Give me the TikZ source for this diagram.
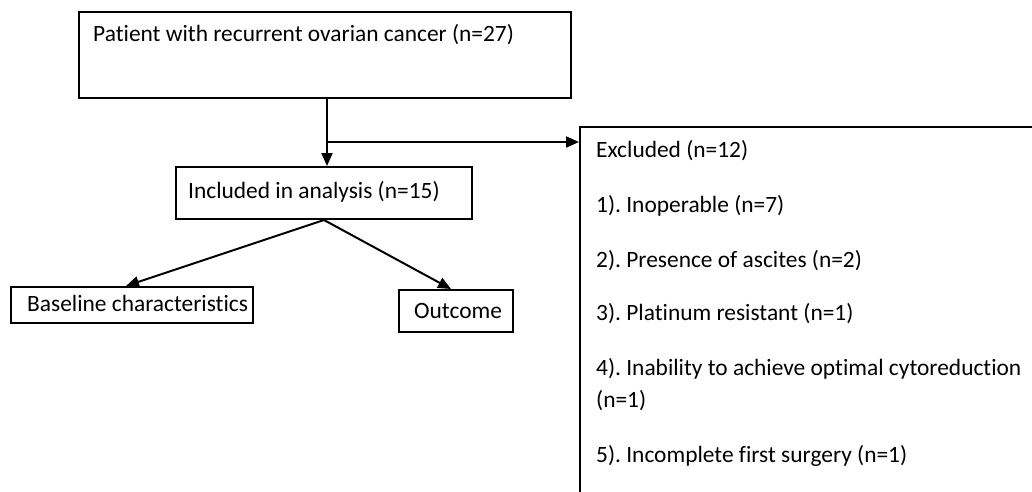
\documentclass[tikz,border=0pt]{standalone}
\usepackage{fontspec}
\setmainfont[Ligatures=NoCommon]{Carlito}
\usetikzlibrary{arrows.meta,calc}
\frenchspacing
\begin{document}
\begin{tikzpicture}[x=1pt,y=-1pt,
  box/.style={draw,line width=2pt,rectangle,inner sep=0pt,anchor=north west},
  txt/.style={anchor=base west,inner sep=0pt,font=\fontsize{23.4}{28}\selectfont},
  arr/.style={line width=2pt,-{Triangle[length=13pt,width=11pt]}}]
\useasboundingbox (0,0) rectangle (1032,491);
\clip (0,0) rectangle (1032,491);
\node[box,minimum width=492pt,minimum height=86pt] (top) at (78,11) {};
\node[box,minimum width=296pt,minimum height=52pt] (inc) at (175,166) {};
\node[box,minimum width=242pt,minimum height=36pt] (base) at (10,286) {};
\node[box,minimum width=114pt,minimum height=42pt] (out) at (398,289) {};
\node[box,minimum width=520pt,minimum height=440pt] (exc) at (579,126) {};
\node[txt] (t1) at (93,41) {Patient with recurrent ovarian cancer (n=27)};
\node[txt] (t2) at (188,198) {Included in analysis (n=15)};
\node[txt] (t3) at (27,311) {Baseline characteristics};
\node[txt] (t4) at (414,318) {Outcome};
\node[txt] (e0) at (596,157) {Excluded (n=12)};
\node[txt] (e1) at (596,212) {1). Inoperable (n=7)};
\node[txt] (e2) at (596,267) {2). Presence of ascites (n=2)};
\node[txt] (e3) at (596,320) {3). Platinum resistant (n=1)};
\node[txt] (e4) at (596,375) {4). Inability to achieve optimal cytoreduction};
\node[txt] (e4b) at (596,407) {(n=1)};
\node[txt] (e5) at (596,462) {5). Incomplete first surgery (n=1)};
\coordinate (br) at ($(top.south)+(2,43)$);
\draw[arr] ($(top.south)+(2,0)$) -- ($(inc.north)+(3,0)$);
\draw[arr] (br) -- (br -| exc.west);
\draw[arr] (inc.south) -- ($(base.north)+(-6,0)$);
\draw[arr] (inc.south) -- ($(out.north)+(-5,0)$);
\end{tikzpicture}
\end{document}
